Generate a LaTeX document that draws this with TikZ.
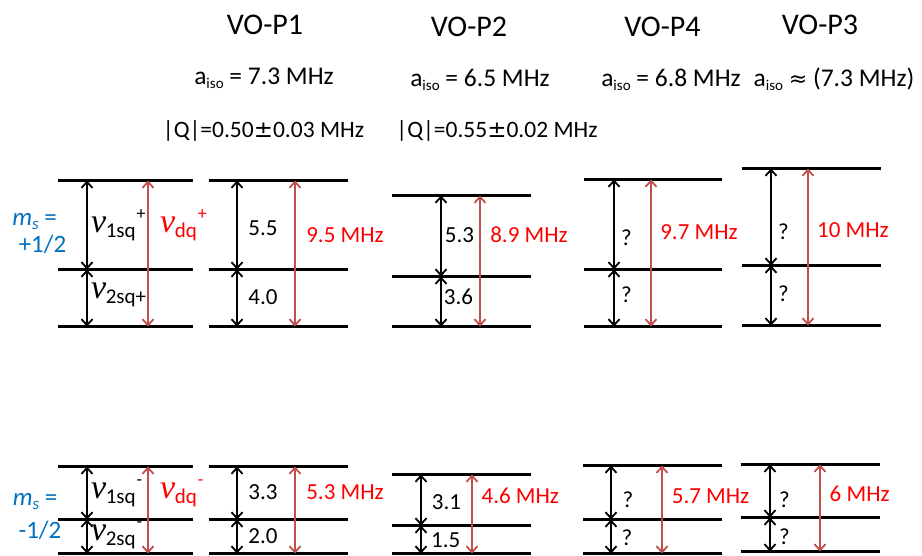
\documentclass[tikz,border=0pt]{standalone}
\usepackage{fontspec}
\setmainfont{Carlito}
\newfontfamily\nufont{Liberation Serif}
\newfontfamily\dvfont{DejaVu Sans}
\usetikzlibrary{arrows.meta}
\definecolor{arrred}{RGB}{192,80,77}
\definecolor{txtred}{RGB}{255,0,0}
\definecolor{msblue}{RGB}{0,112,192}
\newcommand{\fs}[1]{\fontsize{#1}{#1}\selectfont}
\newcommand{\nul}[2]{{\nufont\itshape\fs{34}ν}\kern-0.5pt\raisebox{-5pt}{\fs{21}#1}\kern1pt\raisebox{13pt}{\fs{18}#2}}
\newcommand{\aiso}{a\raisebox{-4pt}{\fs{15}iso}}
\newcommand{\pmsym}{{\dvfont\fs{23}±}}
\begin{document}
\begin{tikzpicture}[x=1pt,y=-1pt,
  level/.style={line width=3pt},
  blk/.style={line width=1.8pt,{Straight Barb[length=6pt,width=11pt]}-{Straight Barb[length=6pt,width=11pt]}},
  redarr/.style={blk,draw=arrred},
  num/.style={font=\fs{23},inner sep=0pt,anchor=center},
  mhz/.style={num,text=txtred},
  ttl/.style={font=\fs{30},inner sep=0pt,anchor=base},
  aisolab/.style={font=\fs{25.5},inner sep=0pt,anchor=base},
  qlab/.style={font=\fs{23.5},inner sep=0pt,anchor=base},
  nulab/.style={inner sep=0pt,anchor=base west},
  mslab/.style={font=\fs{25},text=msblue,inner sep=0pt,anchor=base}
]
\useasboundingbox (0,0) rectangle (922,555);

% energy levels and arrows
\foreach \g/\xl/\xr/\yt/\ym/\yb/\bx/\rx in {
  A/58/193/180.5/269.5/326.5/87/148,
  B/209/348/180.5/269.5/326.5/237/295,
  C/392/531/195.5/276.5/326.5/441/480,
  D/584/722/179.5/269.5/326.5/614/651,
  E/742/881/168.5/265.5/325.5/771/808,
  F/58/193/466.5/519.5/553.5/87/148,
  G/209/348/466.5/519.5/553.5/237/295,
  H/392/531/474.5/525.5/553.5/421/472,
  I/583/721.5/465.5/519.5/553.5/611/662,
  J/740.5/879.5/464.5/517.5/551.5/770/820}{
  \coordinate (\g-tl) at (\xl,\yt);
  \coordinate (\g-tr) at (\xr,\yt);
  \coordinate (\g-ml) at (\xl,\ym);
  \coordinate (\g-mr) at (\xr,\ym);
  \coordinate (\g-bl) at (\xl,\yb);
  \coordinate (\g-br) at (\xr,\yb);
  \coordinate (\g-kt) at (\bx,\yt);
  \coordinate (\g-km) at (\bx,\ym);
  \coordinate (\g-kb) at (\bx,\yb);
  \coordinate (\g-rt) at (\rx,\yt);
  \coordinate (\g-rb) at (\rx,\yb);
  \draw[level] (\g-tl) -- (\g-tr);
  \draw[level] (\g-ml) -- (\g-mr);
  \draw[level] (\g-bl) -- (\g-br);
  \draw[blk] (\g-kt) -- (\g-km);
  \draw[blk] (\g-km) -- (\g-kb);
  \draw[redarr] (\g-rt) -- (\g-rb);
}

% headings
\node[ttl] (t1) at (265,34.3) {VO-P1};
\node[ttl] (t2) at (469,36.7) {VO-P2};
\node[ttl] (t4) at (662.5,36.7) {VO-P4};
\node[ttl] (t3) at (820,34.3) {VO-P3};
\node[aisolab] (a1) at (264,84.3) {\aiso{} = 7.3 MHz};
\node[aisolab] (a2) at (480,86) {\aiso{} = 6.5 MHz};
\node[aisolab] (a4) at (671,86) {\aiso{} = 6.8 MHz};
\node[aisolab] (a3) at (834,86) {\aiso{} {\dvfont\fs{22}≈} (7.3 MHz)};
\node[qlab] (q1) at (263.5,137.3) {|Q|=0.50\pmsym0.03 MHz};
\node[qlab] (q2) at (497,137.3) {|Q|=0.55\pmsym0.02 MHz};

% m_s labels
\node[mslab] (ms1) at (34.5,225) {\textit{m}\raisebox{-4pt}{\fs{17}\textit{s}} =};
\node[mslab] (ms1v) at (42.5,252) {+1/2};
\node[mslab] (ms2) at (35,505) {\textit{m}\raisebox{-4pt}{\fs{17}\textit{s}} =};
\node[mslab] (ms2v) at (40,538) {-1/2};

% nu labels
\node[nulab] (n1p) at (91,232) {\nul{1sq}{+}};
\node[nulab,text=txtred] (ndp) at (160,232) {\nul{dq}{+}};
\node[nulab] (n2p) at (91,298) {\nul{2sq+}{}};
\node[nulab] (n1m) at (91,498) {\nul{1sq}{-}};
\node[nulab,text=txtred] (ndm) at (160,498) {\nul{dq}{-}};
\node[nulab] (n2m) at (91,540) {\nul{2sq}{-}};

% numbers, top
\node[num] (b1) at (263,228.3) {5.5};
\node[mhz] (b2) at (345,235) {9.5 MHz};
\node[num] (b3) at (263,296.7) {4.0};
\node[num] (c1) at (459.5,235) {5.3};
\node[mhz] (c2) at (529,235) {8.9 MHz};
\node[num] (c3) at (458.5,297) {3.6};
\node[num] (d1) at (626.5,237.8) {?};
\node[mhz] (d2) at (699,231.7) {9.7 MHz};
\node[num] (d3) at (626.5,295) {?};
\node[num] (e1) at (783.4,231.7) {?};
\node[mhz] (e2) at (853,230) {10 MHz};
\node[num] (e3) at (783.4,294) {?};

% numbers, bottom
\node[num] (g1) at (263,492.5) {3.3};
\node[mhz] (g2) at (345,492.5) {5.3 MHz};
\node[num] (g3) at (263,535.8) {2.0};
\node[num] (h1) at (446.5,502) {3.1};
\node[mhz] (h2) at (520.3,495.8) {4.6 MHz};
\node[num] (h3) at (445.8,539.7) {1.5};
\node[num] (i1) at (628,500) {?};
\node[mhz] (i2) at (710.6,495.8) {5.7 MHz};
\node[num] (i3) at (627,538) {?};
\node[num] (j1) at (784.4,500) {?};
\node[mhz] (j2) at (859.7,494.2) {6 MHz};
\node[num] (j3) at (784.4,536.7) {?};
\end{tikzpicture}
\end{document}
